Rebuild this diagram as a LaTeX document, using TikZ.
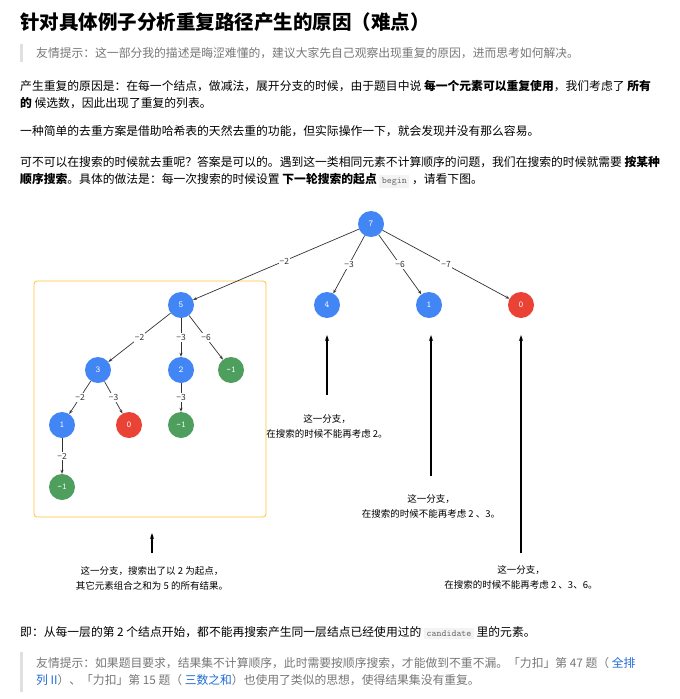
\documentclass[tikz,border=0pt]{standalone}
\usepackage{fontspec}
\setmainfont{Noto Sans CJK SC}
\usetikzlibrary{arrows.meta}
\definecolor{nblue}{HTML}{4285F4}
\definecolor{nred}{HTML}{EA4335}
\definecolor{ngreen}{HTML}{4E9E5E}
\definecolor{quotegray}{HTML}{777777}
\definecolor{codebg}{HTML}{F3F3F3}
\definecolor{linkblue}{HTML}{1E6BD6}
\newcommand{\codespan}[1]{{\setlength{\fboxsep}{2.5pt}\colorbox{codebg}{\ttfamily\color{black!60}\fontsize{9.5}{10}\selectfont #1}}}
\tikzset{
 x=1pt,y=-1pt,
 tn/.style={circle,minimum size=26pt,inner sep=0pt,text=white,font=\ttfamily\fontsize{9}{9}\selectfont},
 bn/.style={tn,fill=nblue},
 rn/.style={tn,fill=nred},
 gn/.style={tn,fill=ngreen},
 edge/.style={-{Stealth[length=4pt,width=3pt]},black!80,line width=0.7pt},
 el/.style={fill=white,inner sep=1pt,font=\fontsize{8.5}{9}\selectfont,text=black!80},
 bigarrow/.style={-{Stealth[length=6pt,width=4pt]},line width=1.4pt},
 note/.style={align=center,font=\fontsize{9.5}{15}\selectfont},
 body/.style={anchor=west,inner sep=0pt,font=\fontsize{11.8}{14}\selectfont},
 quote/.style={body,text=quotegray},
}
\begin{document}
\begin{tikzpicture}
\useasboundingbox[fill=white] (0,0) rectangle (680,699);
\node[anchor=west,inner sep=0pt,font=\fontsize{19.5}{22}\selectfont\bfseries] (title) at (20,22) {针对具体例子分析重复路径产生的原因（难点）};
\fill[black!12] (20,44) rectangle (23,62);
\node[quote] (q1) at (36,53) {友情提示：这一部分我的描述是晦涩难懂的，建议大家先自己观察出现重复的原因，进而思考如何解决。};
\node[body] (p1) at (20,86) {产生重复的原因是：在每一个结点，做减法，展开分支的时候，由于题目中说 \textbf{每一个元素可以重复使用}，我们考虑了 \textbf{所有}};
\node[body] (p1b) at (20,103) {\textbf{的} 候选数，因此出现了重复的列表。};
\node[body] (p2) at (20,131) {一种简单的去重方案是借助哈希表的天然去重的功能，但实际操作一下，就会发现并没有那么容易。};
\node[body] (p3) at (20,162) {可不可以在搜索的时候就去重呢？答案是可以的。遇到这一类相同元素不计算顺序的问题，我们在搜索的时候就需要 \textbf{按某种}};
\node[body] (p3b) at (20,181) {\textbf{顺序搜索}。具体的做法是：每一次搜索的时候设置 \textbf{下一轮搜索的起点} \codespan{begin} ，请看下图。};

\draw[orange!60!yellow!80,line width=0.8pt,rounded corners=3pt] (34,281) rectangle (266,517);
\node[bn] (n7) at (371,224) {7};
\node[bn] (n5) at (181,305) {5};
\node[bn] (n4) at (327,305) {4};
\node[bn] (n1a) at (429,305) {1};
\node[rn] (n0a) at (521,305) {0};
\node[bn] (n3) at (98,370) {3};
\node[bn] (n2) at (181,370) {2};
\node[gn] (g1) at (231,370) {-1};
\node[bn] (n1b) at (62,425) {1};
\node[rn] (n0b) at (129,425) {0};
\node[gn] (g2) at (181,425) {-1};
\node[gn] (g3) at (62,487) {-1};
\draw[edge] (n7) -- node[el,pos=0.45]{−2} (n5);
\draw[edge] (n7) -- node[el]{−3} (n4);
\draw[edge] (n7) -- node[el]{−6} (n1a);
\draw[edge] (n7) -- node[el]{−7} (n0a);
\draw[edge] (n5) -- node[el]{−2} (n3);
\draw[edge] (n5) -- node[el]{−3} (n2);
\draw[edge] (n5) -- node[el]{−6} (g1);
\draw[edge] (n3) -- node[el]{−2} (n1b);
\draw[edge] (n3) -- node[el]{−3} (n0b);
\draw[edge] (n2) -- node[el]{−3} (g2);
\draw[edge] (n1b) -- node[el]{−2} (g3);
\node[note] (t1) at (327,426) {这一分支，\\在搜索的时候不能再考虑 2。};
\node[note] (t2) at (431,506) {这一分支，\\在搜索的时候不能再考虑 2 、3。};
\node[note] (t3) at (521,577) {这一分支，\\在搜索的时候不能再考虑 2 、3、6。};
\node[note] (t4) at (152,578) {这一分支，搜索出了以 2 为起点，\\其它元素组合之和为 5 的所有结果。};
\coordinate (a1) at (327,335); \coordinate (a2) at (431,335); \coordinate (a3) at (521,335); \coordinate (a4) at (152,533);
\draw[bigarrow] (327,395) -- (a1);
\draw[bigarrow] (431,476) -- (a2);
\draw[bigarrow] (521,553) -- (a3);
\draw[bigarrow] (152,553) -- (a4);

\node[body] (p4) at (20,633) {即：从每一层的第 2 个结点开始，都不能再搜索产生同一层结点已经使用过的 \codespan{candidate} 里的元素。};
\fill[black!12] (20,652) rectangle (23,692);
\node[quote] (q2) at (36,663) {友情提示：如果题目要求，结果集不计算顺序，此时需要按顺序搜索，才能做到不重不漏。「力扣」第 47 题（ \textcolor{linkblue}{全排}};
\node[quote] (q2b) at (36,680) {\textcolor{linkblue}{列 II}）、「力扣」第 15 题（ \textcolor{linkblue}{三数之和}）也使用了类似的思想，使得结果集没有重复。};
\end{tikzpicture}
\end{document}
